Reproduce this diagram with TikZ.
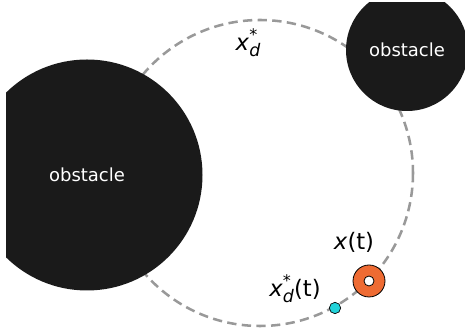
\documentclass[tikz,border=0pt]{standalone}
\usepackage{fontspec}
\setmainfont{DejaVu Sans}
\definecolor{obst}{HTML}{1A1A1A}
\definecolor{pathgray}{HTML}{999999}
\definecolor{robot}{HTML}{EE6B33}
\definecolor{target}{HTML}{22D3DA}
\newcommand{\xstar}{\textit{x}\rlap{\raisebox{0.8ex}{\fontsize{12}{12}\selectfont *}}\raisebox{-0.5ex}{\fontsize{13}{13}\selectfont\textit{d}}}
\tikzset{
  obstacle/.style={circle,fill=obst,draw=none,minimum size=#1,inner sep=0pt,text=white,font=\fontsize{13.5}{16}\selectfont},
  pathcircle/.style={draw=pathgray,line width=1.9pt,dash pattern=on 7pt off 4pt},
  lbl/.style={font=\fontsize{17}{20}\selectfont,inner sep=0pt},
}
\begin{document}
\begin{tikzpicture}[x=0.75pt,y=-0.75pt]
\useasboundingbox (0,0) rectangle (465,334);
\begin{scope}
\clip (6,3) rectangle (465,334);
\coordinate (path) at (260,173);
\draw[pathcircle] (path) circle[radius=153];
\node[obstacle=173.25pt] (big) at (87,175) {obstacle};
\node[obstacle=91.5pt] (small) at (407,50) {obstacle};
\end{scope}
\node[lbl] (xdlabel) at (248,43) {\xstar};
\node[circle,fill=robot,draw=black,line width=0.6pt,minimum size=24pt,inner sep=0pt] (robot) at (369,281) {};
\node[circle,fill=white,draw=black,line width=0.6pt,minimum size=7.5pt,inner sep=0pt] (hole) at (369,281) {};
\node[circle,fill=target,draw=black,line width=0.5pt,minimum size=8.5pt,inner sep=0pt] (target) at (335,308) {};
\node[lbl] (xt) at (354,242) {\textit{x}(t)};
\node[lbl] (xdt) at (295,289) {\xstar(t)};
\end{tikzpicture}
\end{document}
